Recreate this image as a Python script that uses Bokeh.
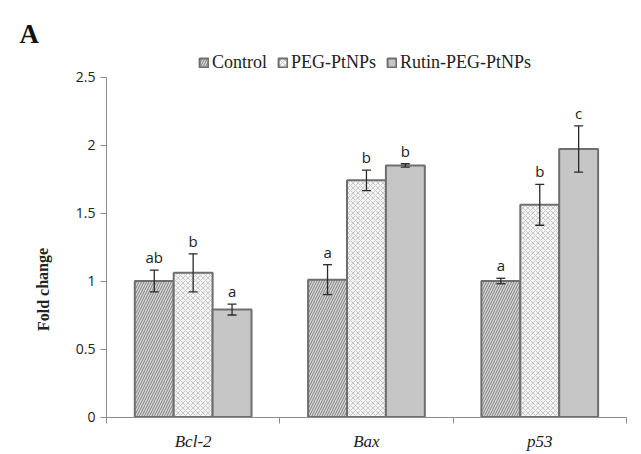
from bokeh.plotting import figure
from bokeh.models import (Range1d, FixedTicker, NumeralTickFormatter, Whisker,
                          ColumnDataSource, Legend, LegendItem, Label)
from bokeh.core.properties import value
from bokeh.embed import file_html
from bokeh.resources import INLINE

categories = ["Bcl-2", "Bax", "p53"]
series = ["Control", "PEG-PtNPs", "Rutin-PEG-PtNPs"]
control = [1.00, 1.01, 1.00]
control_err = [0.08, 0.11, 0.02]
control_sig = ["ab", "a", "a"]
peg = [1.06, 1.74, 1.56]
peg_err = [0.14, 0.075, 0.15]
peg_sig = ["b", "b", "b"]
rutin = [0.79, 1.85, 1.97]
rutin_err = [0.04, 0.012, 0.17]
rutin_sig = ["a", "b", "c"]
y_ticks = [0, 0.5, 1, 1.5, 2, 2.5]

serif = "Liberation Serif"
sans = "Open Sans"

XPX = 173.3
YPX = 136.0
LEFT, BASE = 106, 416.5
x0 = -0.5 - LEFT / XPX
x1 = -0.5 + (641 - LEFT) / XPX
y0 = -(454 - BASE) / YPX
y1 = BASE / YPX


def xpx(px):
    return x0 + px / XPX


def ypx(py):
    return (BASE - py) / YPX


p = figure(width=641, height=454, output_backend="svg", toolbar_location=None,
           x_range=Range1d(x0, x1), y_range=Range1d(y0, y1),
           min_border_left=0, min_border_right=0, min_border_top=0, min_border_bottom=0)
p.title.visible = False
p.outline_line_color = None
p.grid.grid_line_color = None

# y axis
ya = p.yaxis[0]
ya.fixed_location = -0.5
ya.bounds = (0, 2.5)
ya.ticker = FixedTicker(ticks=y_ticks)
ya.formatter = NumeralTickFormatter(format="0.[0]")
ya.axis_line_color = "#8c8c8c"
ya.major_tick_line_color = "#8c8c8c"
ya.major_tick_out = 6
ya.major_tick_in = 0
ya.minor_tick_line_color = None
ya.major_label_text_font = sans
ya.major_label_text_font_size = "14px"
ya.major_label_text_color = "#222222"
ya.major_label_standoff = 5

# x axis
xa = p.xaxis[0]
xa.fixed_location = 0
xa.bounds = (-0.5, len(categories) - 0.5)
xa.ticker = FixedTicker(ticks=list(range(len(categories))),
                        minor_ticks=[i - 0.5 for i in range(len(categories) + 1)])
xa.major_label_overrides = {i: c for i, c in enumerate(categories)}
xa.axis_line_color = "#8c8c8c"
xa.major_tick_line_color = None
xa.minor_tick_line_color = "#8c8c8c"
xa.minor_tick_out = 6
xa.minor_tick_in = 0
xa.major_label_text_font = serif
xa.major_label_text_font_style = "italic"
xa.major_label_text_font_size = "17px"
xa.major_label_text_color = "#222222"
xa.major_label_standoff = 9

w = 0.2245
offsets = [-w, 0.0, w]
vals = [control, peg, rutin]
errs = [control_err, peg_err, rutin_err]
sigs = [control_sig, peg_sig, rutin_sig]
styles = [
    dict(fill_color="#d4d4d4", hatch_pattern="/", hatch_color="#828282", hatch_scale=5, hatch_weight=1),
    dict(fill_color="#f4f4f4", hatch_pattern="x", hatch_color="#b4b4b4", hatch_scale=5, hatch_weight=0.7),
    dict(fill_color="#c6c6c6"),
]

items = []
for k in range(3):
    xs = [i + offsets[k] for i in range(len(categories))]
    up = [v + e for v, e in zip(vals[k], errs[k])]
    lo = [v - e for v, e in zip(vals[k], errs[k])]
    src = ColumnDataSource(dict(x=xs, top=vals[k], up=up, lo=lo, sig=sigs[k]))
    r = p.vbar(x="x", top="top", bottom=0, width=w, source=src,
               line_color="#6e6e6e", line_width=2, **styles[k])
    items.append(LegendItem(label=series[k], renderers=[r]))
    wh = Whisker(base="x", upper="up", lower="lo", source=src, level="overlay",
                 line_color="#2a2a2a", line_width=1.3)
    for h in (wh.upper_head, wh.lower_head):
        h.size = 9
        h.line_color = "#2a2a2a"
        h.line_width = 1.3
    p.add_layout(wh)
    p.text(x="x", y="up", text="sig", source=src, text_align="center",
           text_baseline="bottom", y_offset=-3, text_font=value(sans),
           text_font_size="15px", text_color="#222222")

legend = Legend(items=items, orientation="horizontal", location=(198, 381),
                label_text_font=serif, label_text_font_size="18px",
                label_text_color="#222222", glyph_width=11, glyph_height=11,
                label_standoff=3, spacing=10, padding=0, margin=0,
                border_line_color=None, background_fill_alpha=0, label_height=16)
p.add_layout(legend)

p.add_layout(Label(x=xpx(42.5), y=ypx(289), text="Fold change", angle=1.5708,
                   text_font=serif, text_font_style="bold", text_font_size="16px",
                   text_align="center", text_baseline="middle", text_color="#222222"))
p.add_layout(Label(x=xpx(19), y=ypx(48), text="A", text_font=serif,
                   text_font_style="bold", text_font_size="27px", text_color="#111111"))

open("out.html", "w").write(file_html(p, INLINE))
